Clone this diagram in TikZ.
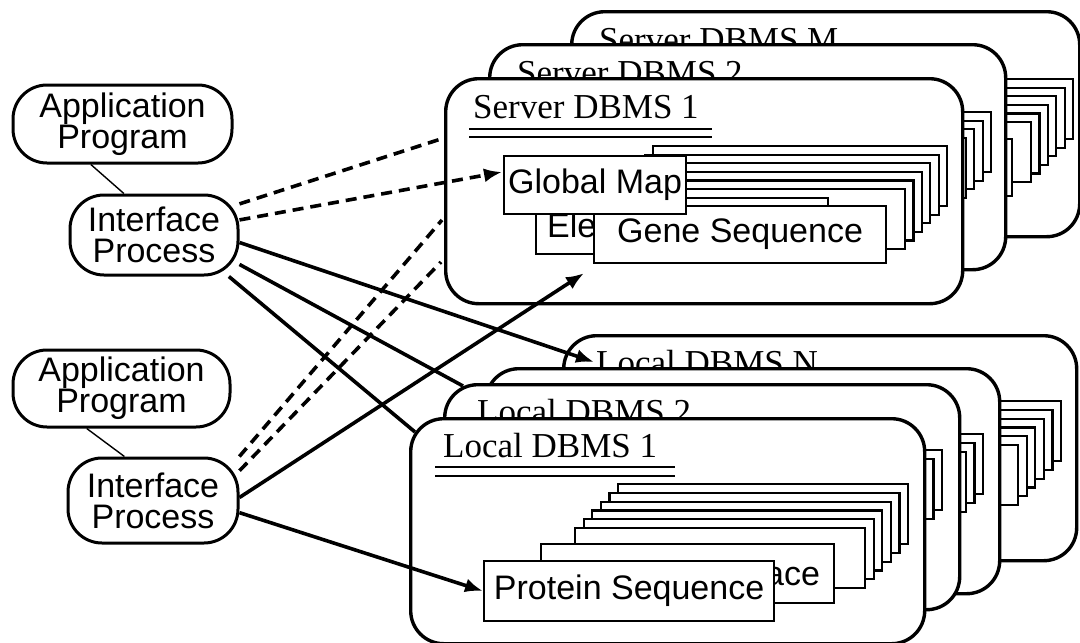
\documentclass[tikz,border=0pt]{standalone}
\usepackage{fontspec}
\setmainfont{Liberation Serif}
\setsansfont{Liberation Sans}
\usetikzlibrary{calc, positioning, arrows.meta}

\tikzset{
  procbox/.style={draw, line width=3pt, rounded corners=34pt, fill=white,
    align=center, inner sep=0pt, font=\sffamily\fontsize{34}{31}\selectfont},
  dbmsbox/.style={draw, line width=3.4pt, rounded corners=33pt, fill=white,
    minimum height=225pt, inner sep=0pt},
  dbmstitle/.style={inner sep=0pt, font=\rmfamily\fontsize{35}{35}\selectfont},
  dbmsrule/.style={line width=2.6pt},
  sheet/.style={draw, line width=2.2pt, fill=white, inner sep=0pt,
    minimum width=292pt, minimum height=58pt,
    font=\sffamily\fontsize{34}{34}\selectfont},
  sheettext/.style={inner sep=0pt, font=\sffamily\fontsize{34}{34}\selectfont},
  link/.style={line width=3.6pt},
  query/.style={line width=3.6pt, dash pattern=on 11pt off 7pt},
  tip/.style={-{Latex[length=18pt,width=14pt]}}
}

% server frame: name, x, y, width, title
\newcommand{\serverframe}[5]{%
  \node[dbmsbox, minimum width=#4pt, anchor=north west] (#1) at (#2,#3) {};
  \node[dbmstitle, anchor=base west] (#1title) at ($(#1.north west)+(29,41)$) {#5};
  \draw[dbmsrule] ($(#1.north west)+(25,52)$) -- ++(243,0);
  \draw[dbmsrule] ($(#1.north west)+(25,60)$) -- ++(243,0);
  \foreach \n in {0,...,5}
    \node[sheet, minimum width=294pt, minimum height=60pt, anchor=north west]
      at ($(#1.north west)+({208-8.4*\n},{68+8.6*\n})$) {};
}

% local frame: name, x, y, width, title
\newcommand{\localframe}[5]{%
  \node[dbmsbox, minimum width=#4pt, anchor=north west] (#1) at (#2,#3) {};
  \node[dbmstitle, anchor=base west] (#1title) at ($(#1.north west)+(34,40)$) {#5};
  \draw[dbmsrule] ($(#1.north west)+(26,50)$) -- ++(240,0);
  \draw[dbmsrule] ($(#1.north west)+(26,59)$) -- ++(240,0);
  \foreach \n in {0,...,5}
    \node[sheet, minimum width=290pt, minimum height=60pt, anchor=north west]
      at ($(#1.north west)+({208-8.6*\n},{66+8.8*\n})$) {};
}

\begin{document}
\begin{tikzpicture}[x=1pt, y=-1pt]
  \useasboundingbox (0,0) rectangle (1080,643);

  % server DBMSs, back to front
  \serverframe{srvM}{570}{10}{508}{Server DBMS M}
  \node[sheet, minimum height=57pt, anchor=north west] (srvMgene) at ($(srvM.north west)+(149,128)$) {};
  \serverframe{srv2}{488}{43}{516}{Server DBMS 2}
  \node[sheet, minimum height=57pt, anchor=north west] (srv2gene) at ($(srv2.north west)+(149,128)$) {};
  \serverframe{srv1}{444}{77}{517}{Server DBMS 1}
  \node[sheet, minimum height=56pt, anchor=north west] (ele) at ($(srv1.north west)+(91,120)$) {};
  \node[sheettext, anchor=base west] (eletext) at ($(ele.north west)+(12,40)$) {Ele};
  \node[sheet, minimum height=57pt, anchor=north west] (gene) at ($(srv1.north west)+(149,128)$) {Gene Sequence};
  \node[sheet, minimum width=182pt, anchor=north west] (gmap) at ($(srv1.north west)+(59,78)$) {Global Map};

  % local DBMSs, back to front
  \localframe{locN}{562}{334}{513}{Local DBMS N}
  \localframe{locX}{484}{367}{514}{}
  \localframe{loc2}{443}{383}{515}{Local DBMS 2}
  \localframe{loc1}{409}{417}{514}{Local DBMS 1}
  \node[sheet, minimum width=293pt, minimum height=59pt, anchor=north west] (acesheet) at ($(loc1.north west)+(131,126)$) {};
  \node[sheettext, anchor=base east] (acetext) at ($(acesheet.south east)+(-15,-19)$) {ace};
  \node[sheet, minimum width=290pt, minimum height=60pt, anchor=north west] (prot) at ($(loc1.north west)+(74,143)$) {Protein Sequence};

  % applications and interface processes
  \node[procbox, minimum width=219pt, minimum height=78pt] (app1) at (122.5,124) {Application\\Program};
  \node[procbox, minimum width=168pt, minimum height=80pt] (ip1) at (154,235) {Interface\\Process};
  \node[procbox, minimum width=217pt, minimum height=77pt] (app2) at (121.5,388.5) {Application\\Program};
  \node[procbox, minimum width=170pt, minimum height=85pt] (ip2) at (153,500.5) {Interface\\Process};
  \draw[line width=1.4pt] (app1.232) -- (ip1.126);
  \draw[line width=1.4pt] (app2.229) -- (ip2.123);

  % first interface process
  \draw[query] (ip1.20) -- ($(srv1.north west)+(0,61)$);
  \draw[query, tip] (ip1.10) -- ($(gmap.north west)+(-1,17)$);
  \draw[link, tip] (ip1.-5) -- ($(locN.north west)+(32,28)$);
  \draw[link] (ip1.-19) -- ($(loc2.north west)+(20,3)$);
  \draw[link] (ip1.-29) -- ($(loc1.north west)+(6,15)$);

  % second interface process
  \draw[query] (ip2.27) -- ($(srv1.north west)+(-2,143)$);
  \draw[query] (ip2.19) -- ($(srv1.north west)+(-3,185)$);
  \draw[link, tip] (ip2.2) -- ($(gene.south west)+(-9,9)$);
  \draw[link, tip] (ip2.-8) -- (prot.west);
\end{tikzpicture}
\end{document}
